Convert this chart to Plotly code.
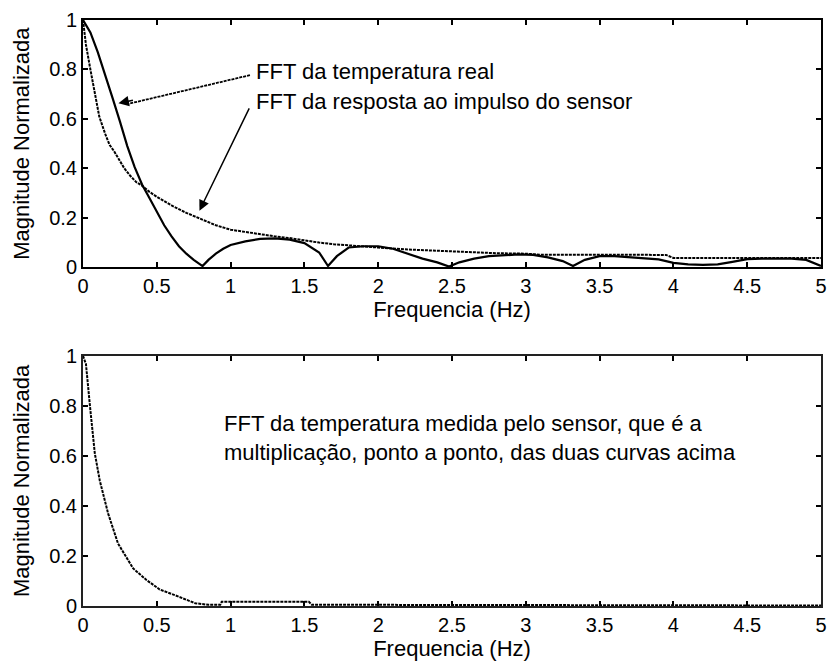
import plotly.graph_objects as go

# ---- data ----
freq_real = [0, 0.05, 0.1, 0.15, 0.2, 0.25, 0.3, 0.35, 0.4, 0.45, 0.5, 0.55, 0.6, 0.65, 0.7, 0.75,
             0.81, 0.85, 0.9, 0.95, 1.0, 1.1, 1.2, 1.3, 1.4, 1.5, 1.6, 1.66, 1.72, 1.8, 1.9, 2.0,
             2.1, 2.2, 2.3, 2.4, 2.48, 2.55, 2.65, 2.75, 2.85, 2.95, 3.05, 3.15, 3.25, 3.32, 3.4,
             3.5, 3.6, 3.7, 3.8, 3.9, 4.0, 4.1, 4.2, 4.3, 4.4, 4.5, 4.6, 4.7, 4.8, 4.9, 5.0]
mag_real = [1.0, 0.95, 0.87, 0.78, 0.685, 0.59, 0.49, 0.405, 0.335, 0.28, 0.225, 0.17, 0.125, 0.085,
            0.055, 0.03, 0.005, 0.03, 0.055, 0.075, 0.09, 0.105, 0.115, 0.117, 0.112, 0.098, 0.06,
            0.005, 0.045, 0.08, 0.085, 0.085, 0.075, 0.055, 0.035, 0.02, 0.003, 0.02, 0.035, 0.045,
            0.05, 0.052, 0.05, 0.04, 0.025, 0.005, 0.03, 0.045, 0.045, 0.04, 0.038, 0.032, 0.018,
            0.012, 0.01, 0.012, 0.022, 0.033, 0.035, 0.035, 0.035, 0.03, 0.005]

freq_sensor = [0, 0.02, 0.05, 0.08, 0.11, 0.15, 0.18, 0.21, 0.25, 0.28, 0.32, 0.36, 0.40, 0.45, 0.5,
               0.6, 0.7, 0.8, 0.9, 1.0, 1.1, 1.2, 1.3, 1.4, 1.5, 1.6, 1.7, 1.8, 2.0, 2.2, 2.4, 2.6,
               2.8, 3.0, 3.1, 3.5, 3.95, 4.0, 4.5, 5.0]
mag_sensor = [1.0, 0.9, 0.8, 0.7, 0.61, 0.54, 0.495, 0.47, 0.43, 0.40, 0.37, 0.345, 0.33, 0.305,
              0.285, 0.25, 0.22, 0.195, 0.17, 0.152, 0.142, 0.133, 0.125, 0.118, 0.108, 0.1, 0.093,
              0.088, 0.08, 0.072, 0.066, 0.06, 0.057, 0.055, 0.051, 0.051, 0.05, 0.038, 0.038, 0.038]

freq_measured = [0, 0.02, 0.047, 0.08, 0.114, 0.17, 0.237, 0.34, 0.43, 0.52, 0.65, 0.76, 0.85, 0.93,
                 0.94, 1.0, 1.2, 1.4, 1.53, 1.55, 2.0, 3.0, 4.0, 5.0]
mag_measured = [1.0, 0.967, 0.8, 0.61, 0.50, 0.37, 0.25, 0.15, 0.104, 0.066, 0.037, 0.011, 0.005,
                0.005, 0.017, 0.017, 0.017, 0.017, 0.017, 0.005, 0.005, 0.004, 0.003, 0.002]

x_tickvals = [0, 0.5, 1, 1.5, 2, 2.5, 3, 3.5, 4, 4.5, 5]
x_ticktext = ["0", "0.5", "1", "1.5", "2", "2.5", "3", "3.5", "4", "4.5", "5"]
y_tickvals = [0, 0.2, 0.4, 0.6, 0.8, 1]
y_ticktext = ["0", "0.2", "0.4", "0.6", "0.8", "1"]

x_title = "Frequencia (Hz)"
y_title = "Magnitude Normalizada"
label_real = "FFT da temperatura real"
label_sensor = "FFT da resposta ao impulso do sensor"
label_measured = ("FFT da temperatura medida pelo sensor, que é a<br>"
                  "multiplicação, ponto a ponto, das duas curvas acima")

FONT = "Liberation Sans, Arial, sans-serif"
DASH = "3px,1px"

fig = go.Figure()
fig.add_trace(go.Scatter(x=freq_real, y=mag_real, mode="lines",
                         line=dict(color="black", width=2.2), xaxis="x", yaxis="y",
                         showlegend=False))
fig.add_trace(go.Scatter(x=freq_sensor, y=mag_sensor, mode="lines",
                         line=dict(color="black", width=2, dash=DASH), xaxis="x", yaxis="y",
                         showlegend=False))
fig.add_trace(go.Scatter(x=freq_measured, y=mag_measured, mode="lines",
                         line=dict(color="black", width=2, dash=DASH), xaxis="x2", yaxis="y2",
                         showlegend=False))

def xax(anchor, linecolor):
    return dict(domain=[0, 1], range=[0, 5], anchor=anchor, tickmode="array",
                tickvals=x_tickvals, ticktext=x_ticktext, ticks="inside", ticklen=5, tickwidth=2,
                tickcolor="black", showline=True, linecolor=linecolor, linewidth=2, mirror="ticks",
                showgrid=False, zeroline=False, tickfont=dict(family=FONT, size=20, color="black"),
                title=dict(text=x_title, font=dict(family=FONT, size=22, color="black"), standoff=3))

def yax(domain, anchor, linecolor):
    return dict(domain=domain, range=[0, 1], anchor=anchor, tickmode="array",
                tickvals=y_tickvals, ticktext=y_ticktext, ticks="inside", ticklen=5, tickwidth=2,
                tickcolor="black", showline=True, linecolor=linecolor, linewidth=2, mirror="ticks",
                showgrid=False, zeroline=False, tickfont=dict(family=FONT, size=20, color="black"),
                title=dict(text=y_title, font=dict(family=FONT, size=22, color="black"), standoff=13))

fig.update_layout(
    width=836, height=667,
    margin=dict(l=83, r=9, t=18, b=61),
    paper_bgcolor="white", plot_bgcolor="white",
    xaxis=xax("y", "black"),
    yaxis=yax([0.578, 1], "x", "black"),
    xaxis2=xax("y2", "#222222"),
    yaxis2=yax([0, 0.427], "x2", "#222222"),
    font=dict(family=FONT, color="black"),
)

# text labels
fig.add_annotation(x=1.156, y=0.79, xref="x", yref="y", text=label_real, showarrow=False,
                   xanchor="left", yanchor="middle", font=dict(family=FONT, size=22, color="black"))
fig.add_annotation(x=1.156, y=0.672, xref="x", yref="y", text=label_sensor, showarrow=False,
                   xanchor="left", yanchor="middle", font=dict(family=FONT, size=22, color="black"))
fig.add_annotation(x=0.941, y=0.673, xref="x2", yref="y2", text=label_measured, showarrow=False,
                   xanchor="left", yanchor="middle", align="left",
                   font=dict(family=FONT, size=22, color="black"))

# arrow 1 (dashed shaft + head)
fig.add_shape(type="line", xref="x", yref="y", x0=1.131, y0=0.777, x1=0.30, y1=0.66,
              line=dict(color="black", width=1.8, dash=DASH))
fig.add_annotation(x=0.24, y=0.663, xref="x", yref="y", text="", showarrow=True,
                   ax=16, ay=-3.3, arrowhead=2, arrowsize=1.4, arrowwidth=1.5, arrowcolor="black")
# arrow 2
fig.add_annotation(x=0.789, y=0.229, xref="x", yref="y", axref="x", ayref="y",
                   ax=1.131, ay=0.649, text="", showarrow=True,
                   arrowhead=2, arrowsize=1.4, arrowwidth=1.5, arrowcolor="black")

fig.write_html("out.html")
